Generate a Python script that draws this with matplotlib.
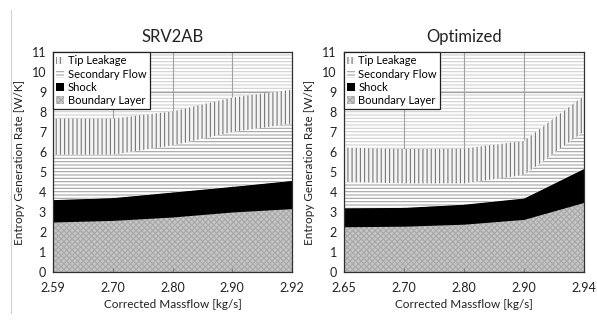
import matplotlib.pyplot as plt
from matplotlib.lines import Line2D

plt.rcParams["font.family"] = ["Lato", "DejaVu Sans"]
plt.rcParams["hatch.linewidth"] = 0.8

# entropy generation breakdown per massflow point [W/K]
srv_massflow = ["2.59", "2.70", "2.80", "2.90", "2.92"]
srv_boundary = [2.50, 2.58, 2.75, 3.00, 3.17]
srv_shock = [1.12, 1.14, 1.25, 1.28, 1.41]
srv_secondary = [2.25, 2.15, 2.33, 2.72, 2.84]
srv_tip = [1.80, 1.80, 1.70, 1.72, 1.70]

opt_massflow = ["2.65", "2.70", "2.80", "2.90", "2.94"]
opt_boundary = [2.26, 2.29, 2.39, 2.63, 3.48]
opt_shock = [0.95, 0.94, 1.00, 1.07, 1.70]
opt_secondary = [1.30, 1.20, 1.04, 1.15, 1.84]
opt_tip = [1.71, 1.72, 1.74, 1.70, 1.79]

labels = ["Boundary Layer", "Shock", "Secondary Flow", "Tip Leakage"]
styles = [
    dict(facecolor="#c6c6c6", edgecolor="#a8a8a8", hatch="xxxxxx"),
    dict(facecolor="black", edgecolor="black", hatch=None),
    dict(facecolor="white", edgecolor="#a4a4a4", hatch="-----"),
    dict(facecolor="#f4f4f4", edgecolor="#777777", hatch="||||"),
]


def draw_panel(ax, cats, layers, title):
    x = list(range(len(cats)))
    base = [0.0] * len(cats)
    handles = []
    for vals, lab, st in zip(layers, labels, styles):
        top = [b + v for b, v in zip(base, vals)]
        h = ax.fill_between(x, base, top, linewidth=0, label=lab, **st)
        handles.append(h)
        base = top

    # plot area itself carries a light horizontal line pattern
    ax.patch.set_hatch("-----")
    ax.patch.set_edgecolor("#d0d0d0")

    for xi in x[1:-1]:
        ax.axvline(xi, color="#a0a0a0", lw=0.8, zorder=0.5)
    ax.axhline(9, color="#a0a0a0", lw=0.8, zorder=0.5)

    ax.set_xlim(0, len(cats) - 1)
    ax.set_ylim(0, 11)
    ax.set_yticks(range(12))
    ax.set_xticks(x)
    ax.set_xticklabels(cats)
    ax.tick_params(axis="y", length=0, labelsize=9, pad=5, colors="#222222")
    ax.tick_params(axis="x", direction="in", length=3, labelsize=9, pad=7,
                   colors="#222222", color="#808080")
    for s in ax.spines.values():
        s.set_color("#303030")
        s.set_linewidth(0.9)
    ax.set_title(title, fontsize=12, pad=7, color="#222222")
    ax.set_xlabel("Corrected Massflow [kg/s]", fontsize=8.5, color="#222222", labelpad=4)
    ax.set_ylabel("Entropy Generation Rate [W/K]", fontsize=8.5, color="#222222", labelpad=5)

    leg = ax.legend(handles[::-1], labels[::-1], loc="upper left", fontsize=8,
                    frameon=True, fancybox=False, borderaxespad=0,
                    handlelength=0.7, handleheight=0.7, handletextpad=0.3,
                    labelspacing=0.2, borderpad=0.3)
    leg.get_frame().set_edgecolor("#202020")
    leg.get_frame().set_linewidth(0.9)
    leg.get_frame().set_alpha(1)


fig = plt.figure(figsize=(5.97, 3.2), dpi=100)
ax1 = fig.add_axes([0.089, 0.15, 0.400, 0.6875])
ax2 = fig.add_axes([0.576, 0.15, 0.402, 0.6875])

draw_panel(ax1, srv_massflow, [srv_boundary, srv_shock, srv_secondary, srv_tip], "SRV2AB")
draw_panel(ax2, opt_massflow, [opt_boundary, opt_shock, opt_secondary, opt_tip], "Optimized")

fig.add_artist(Line2D([11 / 597, 11 / 597], [7 / 320, 1 - 10 / 320],
                      transform=fig.transFigure, color="#d0d0d0", lw=0.8))

fig.savefig("out.png", dpi=100)
